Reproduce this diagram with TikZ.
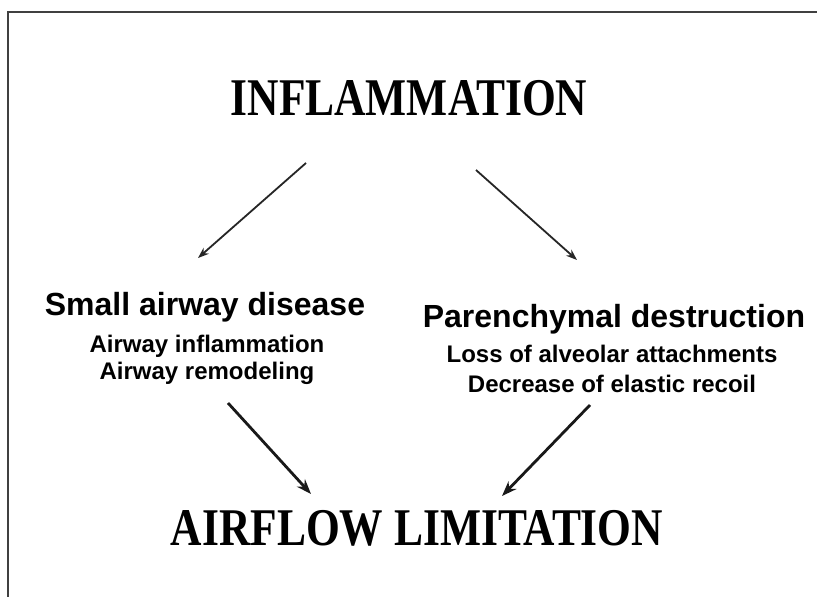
\documentclass[tikz,border=0pt]{standalone}
\usepackage{fontspec}
\setmainfont{Liberation Serif}
\setsansfont{Liberation Sans}
\usetikzlibrary{arrows.meta,positioning}

\begin{document}
\begin{tikzpicture}[x=1pt, y=-1pt,
  bigtitle/.style={anchor=base, inner sep=0pt, font=\fontsize{53}{60}\selectfont\bfseries},
  head/.style={anchor=base, inner sep=0pt, font=\sffamily\fontsize{32}{38}\selectfont\bfseries},
  sub/.style={anchor=base, inner sep=0pt, font=\sffamily\fontsize{24}{28}\selectfont\bfseries},
  thinarr/.style={-{Stealth[length=11pt, width=8pt]}, line width=1.8pt, black!85},
  thickarr/.style={-{Stealth[length=15pt, width=11pt]}, line width=2.8pt, black!90}
]
  \useasboundingbox (0,0) rectangle (817,597);
  \fill[white] (0,0) rectangle (817,597);

  %% Slide frame
  \draw[line width=1.8pt, black!75] (8,597) -- (8,12) -- (830,12);

  %% Top and bottom titles
  \node[bigtitle] (inflam)  at (409,115) {\scalebox{0.82}[1]{INFLAMMATION}};
  \node[bigtitle] (airflow) at (417,545) {\scalebox{0.82}[1]{AIRFLOW LIMITATION}};

  %% Left branch
  \node[head] (sad)  at (205,315) {Small airway disease};
  \node[sub]  (sad1) at (207,352) {Airway inflammation};
  \node[sub]  (sad2) at (207,379) {Airway remodeling};

  %% Right branch
  \node[head] (pd)  at (614,327) {Parenchymal destruction};
  \node[sub]  (pd1) at (612,362) {Loss of alveolar attachments};
  \node[sub]  (pd2) at (612,392) {Decrease of elastic recoil};

  %% Arrow ends
  \coordinate (inL) at (306,163);
  \coordinate (inR) at (476,170);
  \coordinate (sadT) at (198,258);
  \coordinate (pdT)  at (577,260);
  \coordinate (sadB) at (228,403);
  \coordinate (pdB)  at (590,405);
  \coordinate (afL)  at (311,494);
  \coordinate (afR)  at (502,496);

  \draw[thinarr]  (inL)  -- (sadT);
  \draw[thinarr]  (inR)  -- (pdT);
  \draw[thickarr] (sadB) -- (afL);
  \draw[thickarr] (pdB)  -- (afR);
\end{tikzpicture}
\end{document}
